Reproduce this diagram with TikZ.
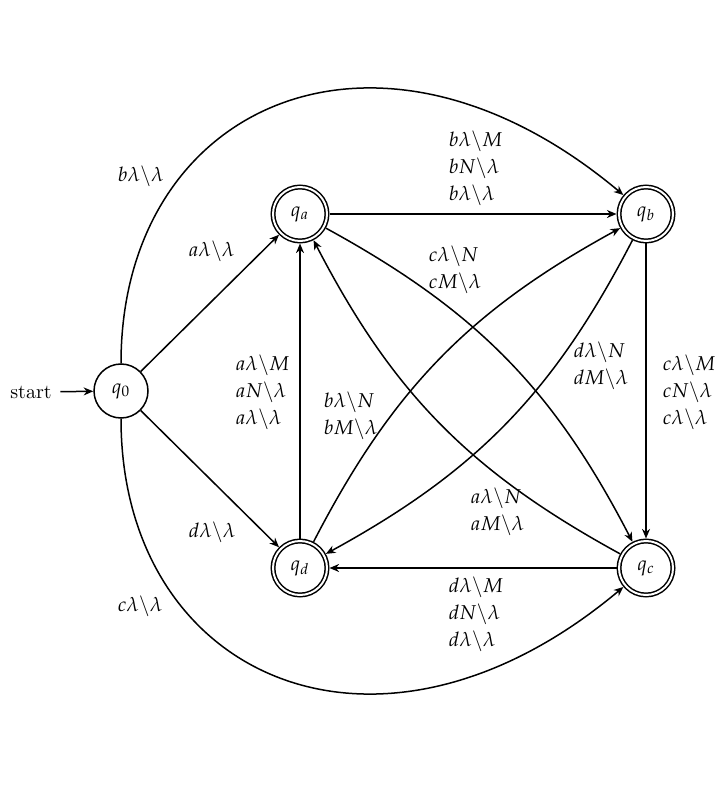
\documentclass[tikz,border=0pt]{standalone}
\usepackage{mathpazo}
\usetikzlibrary{arrows.meta}
\tikzset{
  st/.style={circle, draw, minimum size=27pt, inner sep=0pt, outer sep=0.375pt},
  acc/.style={st, double, double distance=1pt, outer sep=1.25pt},
  lbl/.style={anchor=west, inner sep=0pt, align=left, font=\fontsize{10pt}{13.5pt}\selectfont},
  arr/.style={-{Stealth[length=4.8pt,width=4pt]}},
}
\begin{document}
\begin{tikzpicture}[x=0.5pt,y=0.5pt,line width=0.75pt]
\path[use as bounding box] (0,0) rectangle (726,-785);
% states
\node[st] (q0) at (121,-391) {$q_0$};
\node[acc] (qa) at (300,-214) {$q_a$};
\node[acc] (qb) at (646,-214) {$q_b$};
\node[acc] (qc) at (646,-568) {$q_c$};
\node[acc] (qd) at (300,-568) {$q_d$};
\node[inner sep=4pt] (start) at (31,-392) {start};
% edges
\draw[arr] (start) -- (q0);
\draw[arr] (q0) -- (qa);
\draw[arr] (q0) -- (qd);
\draw[arr] (q0) to[out=90,in=140,out looseness=1.25,in looseness=1.55] (qb);
\draw[arr] (q0) to[out=270,in=220,out looseness=1.25,in looseness=1.55] (qc);
\draw[arr] (qa) -- (qb);
\draw[arr] (qb) -- (qc);
\draw[arr] (qc) -- (qd);
\draw[arr] (qd) -- (qa);
\draw[arr] (qa) to[bend left=17] (qc);
\draw[arr] (qc) to[bend left=17] (qa);
\draw[arr] (qd) to[bend left=17] (qb);
\draw[arr] (qb) to[bend left=17] (qd);
% labels
\node[lbl] (l1) at (117,-176) {$b\lambda\backslash\lambda$};
\node[lbl] (l2) at (188,-251) {$a\lambda\backslash\lambda$};
\node[lbl] (l3) at (188,-532) {$d\lambda\backslash\lambda$};
\node[lbl] (l4) at (117,-606) {$c\lambda\backslash\lambda$};
\node[lbl] (l5) at (448,-168) {$b\lambda\backslash M$\\$bN\backslash\lambda$\\$b\lambda\backslash\lambda$};
\node[lbl] (l6) at (662,-392) {$c\lambda\backslash M$\\$cN\backslash\lambda$\\$c\lambda\backslash\lambda$};
\node[lbl] (l7) at (448,-614) {$d\lambda\backslash M$\\$dN\backslash\lambda$\\$d\lambda\backslash\lambda$};
\node[lbl] (l8) at (235,-392) {$a\lambda\backslash M$\\$aN\backslash\lambda$\\$a\lambda\backslash\lambda$};
\node[lbl] (l9) at (428,-270) {$c\lambda\backslash N$\\$cM\backslash\lambda$};
\node[lbl] (l10) at (573,-366) {$d\lambda\backslash N$\\$dM\backslash\lambda$};
\node[lbl] (l11) at (323,-416) {$b\lambda\backslash N$\\$bM\backslash\lambda$};
\node[lbl] (l12) at (470,-512) {$a\lambda\backslash N$\\$aM\backslash\lambda$};
\end{tikzpicture}
\end{document}
